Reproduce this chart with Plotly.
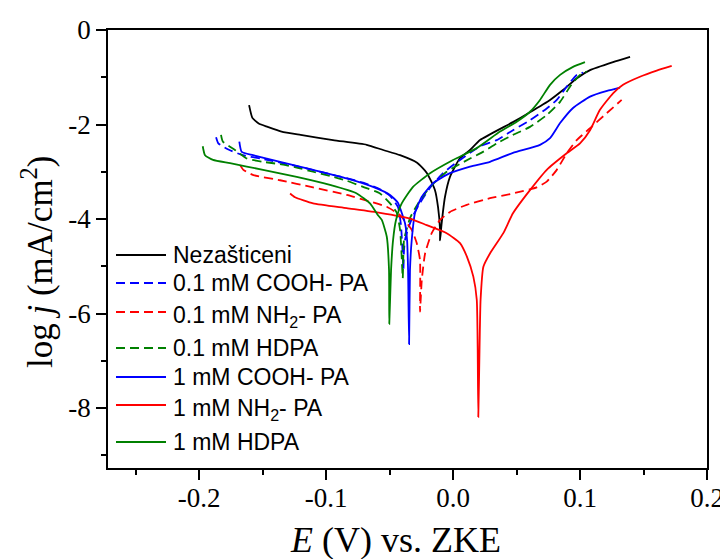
import plotly.graph_objects as go

# ---------------- data (E in V vs. ZKE, log j in log(mA/cm^2)) ----------------
nez_E = [-0.1606, -0.158, -0.153, -0.146, -0.135, -0.120, -0.0945, -0.068, -0.055, -0.0417,
         -0.0283, -0.0205, -0.0142, -0.0118, -0.0102, -0.0102, -0.0091, -0.0063, -0.0024, 0.0055,
         0.0134, 0.0213, 0.0472, 0.0606, 0.0764, 0.0866, 0.0976, 0.1079, 0.126, 0.1394]
nez_logj = [-1.59, -1.86, -1.98, -2.05, -2.15, -2.22, -2.33, -2.43, -2.54, -2.65,
            -2.81, -3.03, -3.39, -3.75, -4.23, -4.45, -4.13, -3.53, -3.11, -2.71,
            -2.54, -2.33, -1.95, -1.74, -1.48, -1.27, -1.02, -0.85, -0.68, -0.57]

cooh01_E = [-0.1866, -0.1848, -0.1769, -0.1654, -0.1496, -0.1231, -0.0969, -0.0709, -0.0575, -0.0496,
            -0.0433, -0.041, -0.0398, -0.0391, -0.0386, -0.0378, -0.0352, -0.0313, -0.026, -0.0181,
            -0.0079, 0.0055, 0.0213, 0.0344, 0.0472, 0.0606, 0.0738, 0.0817, 0.0895, 0.0974, 0.1024]
cooh01_logj = [-2.27, -2.40, -2.53, -2.65, -2.73, -2.88, -3.05, -3.23, -3.37, -3.51,
               -3.75, -4.13, -4.66, -5.08, -4.66, -4.44, -4.19, -3.92, -3.66, -3.34,
               -3.03, -2.75, -2.46, -2.33, -2.12, -1.91, -1.66, -1.48, -1.20, -0.95, -0.90]

nh2_01_E = [-0.1677, -0.1651, -0.1572, -0.1362, -0.1102, -0.0837, -0.0654, -0.0522, -0.0417, -0.0325,
            -0.0286, -0.026, -0.026, -0.0246, -0.022, -0.0168, -0.0102, -0.0024, 0.0108, 0.0291,
            0.0472, 0.0659, 0.0738, 0.0817, 0.0895, 0.0974, 0.1079, 0.121, 0.1328]
nh2_01_logj = [-2.86, -2.96, -3.07, -3.18, -3.33, -3.49, -3.63, -3.74, -3.92, -4.23,
               -4.51, -4.87, -5.96, -5.29, -4.73, -4.30, -4.02, -3.85, -3.70, -3.56,
               -3.46, -3.33, -3.21, -2.96, -2.61, -2.33, -2.08, -1.76, -1.48]

hdpa01_E = [-0.1827, -0.1813, -0.1717, -0.1624, -0.1496, -0.1362, -0.1231, -0.1102, -0.0969, -0.0837,
            -0.0709, -0.0575, -0.0496, -0.0443, -0.0417, -0.0405, -0.0396, -0.0391, -0.0386, -0.0362,
            -0.0339, -0.0273, -0.0181, -0.005, 0.0134, 0.0236, 0.0344, 0.0472, 0.0606, 0.0738,
            0.0843, 0.0921, 0.1, 0.1053]
hdpa01_logj = [-2.22, -2.36, -2.54, -2.72, -2.79, -2.84, -2.91, -3.00, -3.09, -3.19,
               -3.32, -3.46, -3.67, -3.87, -4.23, -4.76, -5.25, -4.76, -4.44, -4.19,
               -3.98, -3.66, -3.32, -3.00, -2.72, -2.58, -2.40, -2.22, -2.05, -1.80,
               -1.52, -1.20, -0.95, -0.88]

cooh1_E = [-0.1683, -0.1664, -0.1575, -0.1362, -0.1102, -0.0837, -0.063, -0.0496, -0.0433, -0.0394,
           -0.0378, -0.0362, -0.0354, -0.0346, -0.0339, -0.0325, -0.0299, -0.0246, -0.0157, -0.0024,
           0.0134, 0.0291, 0.0472, 0.0685, 0.0764, 0.0843, 0.0945, 0.1079, 0.1213, 0.1315]
cooh1_logj = [-2.36, -2.58, -2.65, -2.79, -2.96, -3.14, -3.32, -3.49, -3.66, -3.95,
              -4.09, -4.44, -5.08, -6.65, -5.08, -4.44, -3.87, -3.53, -3.24, -3.03,
              -2.89, -2.79, -2.60, -2.43, -2.29, -1.97, -1.65, -1.41, -1.29, -1.22]

nh2_1_E = [-0.1283, -0.1244, -0.1102, -0.0837, -0.0575, -0.0339, -0.0207, -0.005, 0.0055, 0.011,
           0.016, 0.0187, 0.0194, 0.0199, 0.0209, 0.0217, 0.0239, 0.0291, 0.0396, 0.0472,
           0.0606, 0.0738, 0.0895, 0.1, 0.1079, 0.1157, 0.126, 0.1339, 0.1472, 0.1604, 0.1722]
nh2_1_logj = [-3.46, -3.54, -3.67, -3.77, -3.87, -3.99, -4.13, -4.30, -4.51, -4.80,
              -5.22, -5.71, -6.70, -8.19, -6.70, -5.71, -5.01, -4.73, -4.30, -3.88,
              -3.39, -2.96, -2.61, -2.40, -2.12, -1.69, -1.34, -1.16, -0.99, -0.86, -0.76]

hdpa1_E = [-0.1971, -0.1953, -0.189, -0.1756, -0.1496, -0.1231, -0.0969, -0.0758, -0.0654, -0.0591,
           -0.0561, -0.0522, -0.0504, -0.0502, -0.0488, -0.0472, -0.0449, -0.0404, -0.0315, -0.0181,
           0.0, 0.0187, 0.037, 0.0502, 0.0606, 0.0685, 0.0764, 0.0843, 0.0945, 0.1039]
hdpa1_logj = [-2.46, -2.65, -2.75, -2.82, -2.96, -3.11, -3.28, -3.46, -3.67, -3.92,
              -4.02, -4.37, -5.08, -6.22, -5.08, -4.44, -4.02, -3.67, -3.32, -3.03,
              -2.75, -2.50, -2.15, -1.94, -1.73, -1.48, -1.16, -0.95, -0.78, -0.68]

series_names = ["Nezašticeni", "0.1 mM COOH- PA", "0.1 mM NH<sub>2</sub>- PA", "0.1 mM HDPA",
                "1 mM COOH- PA", "1 mM NH<sub>2</sub>- PA", "1 mM HDPA"]

x_tickvals = [-0.2, -0.1, 0.0, 0.1, 0.2]
x_ticktext = ["-0.2", "-0.1", "0.0", "0.1", "0.2"]
y_tickvals = [0, -2, -4, -6, -8]
y_ticktext = ["0", "-2", "-4", "-6", "-8"]
x_title = "<i>E</i> (V) vs. ZKE"
y_title = "log <i>j</i> (mA/cm<sup>2</sup>)"

# ---------------- figure ----------------
DASH = "9px,5px"
series = [
    (nez_E, nez_logj, "#000000", "solid"),
    (cooh01_E, cooh01_logj, "#0000ff", DASH),
    (nh2_01_E, nh2_01_logj, "#ff0000", DASH),
    (hdpa01_E, hdpa01_logj, "#008000", DASH),
    (cooh1_E, cooh1_logj, "#0000ff", "solid"),
    (nh2_1_E, nh2_1_logj, "#ff0000", "solid"),
    (hdpa1_E, hdpa1_logj, "#008000", "solid"),
]

fig = go.Figure()
for (xs, ys, col, dash), name in zip(series, series_names):
    fig.add_trace(go.Scatter(x=xs, y=ys, mode="lines", name=name, showlegend=False,
                             line=dict(color=col, width=1.8, dash=dash, shape="spline", smoothing=0.5)))

# legend drawn inside the plot area (line sample + label per series)
PLOT_L, PLOT_T, PLOT_W, PLOT_H = 108, 30, 599, 438     # plot area in page pixels
leg_rows_px = [255, 283, 312, 348, 377, 405, 442]
def px_x(p):
    return (p - PLOT_L) / PLOT_W
def px_y(p):
    return (PLOT_T + PLOT_H - p) / PLOT_H

sans = "Liberation Sans, Arial, sans-serif"
serif = "Liberation Serif, Times New Roman, serif"
for (xs, ys, col, dash), name, row in zip(series, series_names, leg_rows_px):
    fig.add_shape(type="line", xref="paper", yref="paper",
                  x0=px_x(116), x1=px_x(166), y0=px_y(row), y1=px_y(row),
                  line=dict(color=col, width=1.8, dash=dash))
    shift = 4 if "<sub>" in name else 0
    fig.add_annotation(xref="paper", yref="paper", x=px_x(171), y=px_y(row + shift),
                       xanchor="left", yanchor="middle", showarrow=False, text=name,
                       font=dict(family=sans, size=23, color="black"))

# axis titles
fig.add_annotation(xref="paper", yref="paper", x=px_x(395), y=px_y(540),
                   xanchor="center", yanchor="middle", showarrow=False, text=x_title,
                   font=dict(family=serif, size=36, color="black"))
fig.add_annotation(xref="paper", yref="paper", x=px_x(37), y=px_y(262),
                   xanchor="center", yanchor="middle", showarrow=False, text=y_title,
                   textangle=-90, font=dict(family=serif, size=35, color="black"))

axis_common = dict(
    showline=True, linecolor="black", linewidth=1.5, mirror=True,
    ticks="outside", ticklen=10, tickwidth=1.5, tickcolor="black",
    showgrid=False, zeroline=False, automargin=False,
    tickfont=dict(family=serif, size=27, color="black"),
)

# page body has an 8px margin, so the figure is 8px smaller and margins shifted
fig.update_layout(
    width=720, height=551,
    margin=dict(l=100, r=21, t=22, b=91),
    paper_bgcolor="white", plot_bgcolor="white",
    xaxis=dict(range=[-0.2717, 0.2], tickvals=x_tickvals, ticktext=x_ticktext,
               minor=dict(dtick=0.05, tick0=0, ticks="outside", ticklen=5, tickwidth=1.5, tickcolor="black"),
               ticklabelstandoff=-5, **axis_common),
    yaxis=dict(range=[-9.27, 0], tickvals=y_tickvals, ticktext=y_ticktext,
               minor=dict(dtick=1, tick0=0, ticks="outside", ticklen=5, tickwidth=1.5, tickcolor="black"),
               **axis_common),
    showlegend=False,
)

fig.write_html("out.html")
